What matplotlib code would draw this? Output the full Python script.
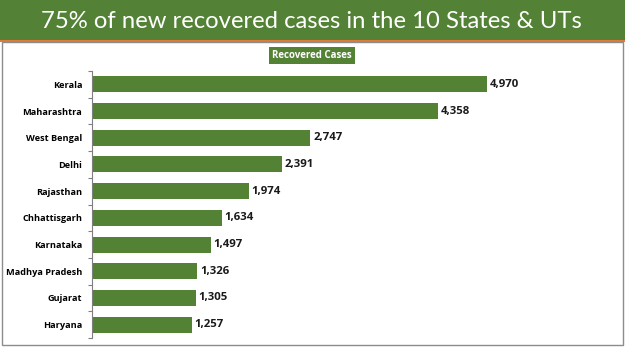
import matplotlib
matplotlib.use("Agg")
import matplotlib.pyplot as plt
from matplotlib.patches import Rectangle

states = ["Kerala", "Maharashtra", "West Bengal", "Delhi", "Rajasthan",
          "Chhattisgarh", "Karnataka", "Madhya Pradesh", "Gujarat", "Haryana"]
recovered = [4970, 4358, 2747, 2391, 1974, 1634, 1497, 1326, 1305, 1257]
title = "75% of new recovered cases in the 10 States & UTs"
series_name = "Recovered Cases"

GREEN = "#548235"
W, H = 625, 351
fig = plt.figure(figsize=(W / 100, H / 100), dpi=100)
fig.patch.set_facecolor("white")

# title band
fig.add_artist(Rectangle((0, 1 - 40 / H), 1, 40 / H, transform=fig.transFigure,
                         facecolor="#538135", edgecolor="none", zorder=0))
fig.add_artist(Rectangle((0, 1 - 42 / H), 1, 1.6 / H, transform=fig.transFigure,
                         facecolor="#E07B39", edgecolor="none", zorder=0))
fig.text(311 / W, 1 - 21 / H, title, color="white", fontsize=17.2, family="Lato",
         ha="center", va="center")

# panel border
fig.add_artist(Rectangle((2 / W, 6 / H), 621 / W, (345 - 42) / H, transform=fig.transFigure,
                         facecolor="none", edgecolor="#8c8c8c", linewidth=1.0, zorder=0))

# series label
fig.text(312 / W, 1 - 55.5 / H, series_name, color="white", fontsize=7, fontweight="bold",
         family="Open Sans", ha="center", va="center",
         bbox=dict(boxstyle="square,pad=0.3", facecolor=GREEN, edgecolor="none"))

ax = fig.add_axes([92 / W, 13 / H, 508 / W, 267 / H])
y = list(range(len(states)))
ax.barh(y, recovered, height=0.6, color=GREEN)
ax.set_ylim(len(states) - 0.5, -0.5)
ax.set_xlim(0, 508 * 12.58)
for s in ["top", "right", "bottom"]:
    ax.spines[s].set_visible(False)
ax.spines["left"].set_color("#7f7f7f")
ax.spines["left"].set_linewidth(0.8)
ax.set_xticks([])
ax.set_yticks(y)
ax.set_yticklabels(states, fontsize=6.6, fontweight="bold", family="Open Sans")
ax.tick_params(axis="y", which="major", length=0, pad=7)
ax.set_yticks([i - 0.5 for i in range(len(states) + 1)], minor=True)
ax.tick_params(axis="y", which="minor", length=3, width=0.8, color="#7f7f7f")
for i, v in enumerate(recovered):
    ax.text(v + 35, i, f"{v:,}", va="center", ha="left", fontsize=8.2,
            fontweight="bold", family="Open Sans", color="#1a1a1a")

fig.savefig("out.png", dpi=100)
